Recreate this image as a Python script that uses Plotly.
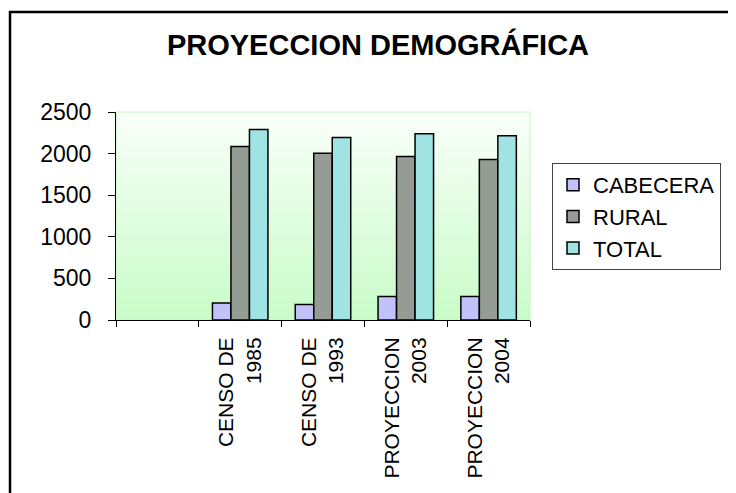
"""Proyeccion demografica: grouped bars CABECERA / RURAL / TOTAL (Plotly)."""

import base64

import plotly.graph_objects as go

CATEGORIES = [' ', 'CENSO DE<br>1985', 'CENSO DE<br>1993', 'PROYECCION<br>2003', 'PROYECCION<br>2004']
CABECERA = [None, 205, 185, 282, 282]
RURAL = [None, 2085, 2005, 1965, 1930]
TOTAL = [None, 2290, 2195, 2240, 2215]
Y_TICKS = [0, 500, 1000, 1500, 2000, 2500]

SERIES = [
    ('CABECERA', CABECERA, '#c2c2fa'),
    ('RURAL', RURAL, '#949c94'),
    ('TOTAL', TOTAL, '#9fe3e3'),
]

FONT = 'Arial, Liberation Sans, sans-serif'

# plot-area gradient (white on top, pale green at the bottom), Excel style
_svg = (
    '<svg xmlns="http://www.w3.org/2000/svg" width="100" height="100" preserveAspectRatio="none">'
    '<defs><linearGradient id="g" x1="0" y1="0" x2="0" y2="1">'
    '<stop offset="0" stop-color="#fafffa"/><stop offset="1" stop-color="#c8fcc8"/>'
    '</linearGradient></defs><rect width="100" height="100" fill="url(#g)"/></svg>'
)
BG_SRC = 'data:image/svg+xml;base64,' + base64.b64encode(_svg.encode()).decode()

# the page body adds an 8px margin, so the figure is a bit smaller than the window
OFF = 8
W, H = 736 - OFF, 493 - OFF
L, R, T, B = 116 - OFF, 736 - 530, 112 - OFF, 493 - 320
PW, PH = W - L - R, H - T - B


def px_to_paper(px, py):
    """Window pixel position to paper coordinates."""
    return (px - OFF - L) / PW, (H - B - (py - OFF)) / PH


fig = go.Figure()

for name, values, color in SERIES:
    fig.add_trace(go.Bar(
        x=CATEGORIES,
        y=values,
        name=name,
        marker=dict(color=color, line=dict(color='black', width=1.5)),
    ))

fx0, fy1 = px_to_paper(10, 12)
fx1, fy0 = px_to_paper(770, 530)
lx, ly = px_to_paper(552, 163)

fig.update_layout(
    width=W,
    height=H,
    margin=dict(l=L, r=R, t=T, b=B),
    paper_bgcolor='white',
    plot_bgcolor='white',
    font=dict(family=FONT, color='black'),
    barmode='group',
    bargap=0.33,
    bargroupgap=0,
    title=dict(
        text='<b>PROYECCION DEMOGRÁFICA</b>',
        font=dict(size=29, family=FONT, color='black'),
        x=(378 - OFF) / W, xref='container', xanchor='center',
        y=1 - (45 - OFF) / H, yref='container', yanchor='middle',
    ),
    showlegend=True,
    legend=dict(
        x=lx, xanchor='left',
        y=ly, yanchor='top',
        bordercolor='#444444', borderwidth=1, bgcolor='white',
        font=dict(size=22, family=FONT, color='black'),
        tracegroupgap=0,
    ),
    xaxis=dict(
        type='category',
        tickson='boundaries',
        ticks='outside', ticklen=6, tickcolor='black',
        showline=True, linecolor='black', linewidth=1,
        showgrid=False,
        tickangle=-90,
        ticklabelstandoff=8,
        tickfont=dict(size=21, family=FONT, color='black'),
    ),
    yaxis=dict(
        range=[0, 2500],
        tickvals=Y_TICKS,
        ticks='outside', ticklen=7, tickcolor='black',
        showline=True, linecolor='black', linewidth=1,
        showgrid=False, zeroline=False,
        ticklabelstandoff=12,
        tickfont=dict(size=23, family=FONT, color='black'),
    ),
    images=[dict(
        source=BG_SRC, xref='paper', yref='paper',
        x=0, y=1, sizex=1, sizey=1,
        sizing='stretch', layer='below',
    )],
    shapes=[
        # light green frame of the plot area
        dict(type='rect', xref='paper', yref='paper', x0=0, y0=0, x1=1, y1=1,
             line=dict(color='#c0f5c0', width=1), layer='below'),
        # chart-area frame (cut by the window at right and bottom)
        dict(type='rect', xref='paper', yref='paper', x0=fx0, y0=fy0, x1=fx1, y1=fy1,
             line=dict(color='black', width=2.5), fillcolor='rgba(0,0,0,0)'),
    ],
)

fig.write_html('out.html')
